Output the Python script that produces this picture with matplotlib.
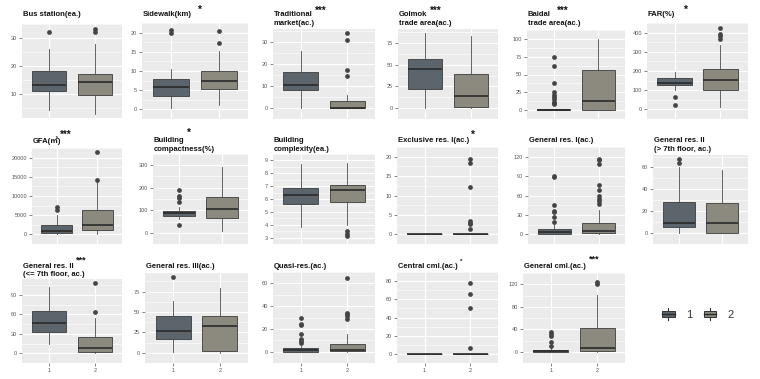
import matplotlib
matplotlib.use("Agg")
import matplotlib.pyplot as plt
from matplotlib.patches import Patch, Rectangle
from matplotlib.lines import Line2D
from matplotlib.legend_handler import HandlerBase
import numpy as np

plt.rcParams['font.family'] = ['Liberation Sans', 'DejaVu Sans', 'Noto Sans CJK KR']

# ---------------- data ----------------
titles = ["Bus station(ea.)", "Sidewalk(km)", "Traditional\nmarket(ac.)",
          "Golmok\ntrade area(ac.)", "Baidal\ntrade area(ac.)", "FAR(%)",
          "GFA(\u33a1)", "Building\ncompactness(%)", "Building\ncomplexity(ea.)",
          "Exclusive res. I(ac.)", "General res. I(ac.)", "General res. II\n(> 7th floor, ac.)",
          "General res. II\n(<= 7th floor, ac.)", "General res. III(ac.)", "Quasi-res.(ac.)",
          "Central cml.(ac.)", "General cml.(ac.)"]
stars = ["", "*", "***", "***", "***", "*",
         "***", "*", "", "*", "", "",
         "***", "", "", "*", "***"]
groups = ["1", "2"]

g1_q1 = [11, 3.5, 8.1, 22.5, 0, 128, 480, 73, 5.6, 0, 1, 6, 33, 16.7, 0, 0, 0]
g1_med = [13, 5.8, 10.6, 45, 0.3, 139, 970, 88, 6.3, 0, 3, 9.2, 46.6, 27, 1, 0, 1]
g1_q3 = [18, 8, 16.3, 57, 1, 163, 2340, 96.5, 6.84, 0, 8, 28, 65.5, 44.7, 3.2, 0, 3]
g1_lo = [4, 0.3, 0, 0.7, 0, 100, 0, 62, 3.84, 0, 0, 0.5, 13.6, 1, 0, 0, 0]
g1_hi = [26, 10.4, 26.1, 87, 2, 197, 5000, 114, 8.7, 0, 16, 60.3, 102, 63, 5.3, 0, 6.6]
g1_out = [[32], [20.0, 20.6], [], [], [8, 10, 12, 15, 19, 21, 25, 38, 62, 75], [22, 62],
          [6370, 7260], [35, 135, 153, 162, 192], [], [], [19, 27, 34, 36, 45, 88.5, 90],
          [64.5, 68], [], [93], [7.9, 9.5, 10.8, 15.3, 23.2, 24.2, 29.5], [],
          [9.6, 17.8, 28.4, 31.5, 34.5]]

g2_q1 = [9.5, 5.4, 0, 1, 0, 103, 1130, 66, 5.74, 0, 1.3, 0, 2.4, 2.3, 0.3, 0, 0.5]
g2_med = [14.2, 7.5, 0, 14.3, 12.6, 154, 2420, 107, 6.67, 0, 5.3, 9.2, 8.3, 32.2, 1.3, 0, 6.6]
g2_q3 = [17, 10, 3, 39.3, 57, 209, 6290, 159, 7.07, 0, 17.3, 27.5, 25.2, 44.7, 7.1, 0, 42.6]
g2_lo = [2.8, 1.1, 0, 0.5, 0, 14, 100, 9, 4.0, 0, 0, 0, 0, 0, 0, 0, 0]
g2_hi = [28, 15.2, 6, 83, 100, 338, 14000, 290, 8.8, 0, 37, 57.5, 54.8, 79.5, 15.8, 0, 101]
g2_out = [[32.1, 33.2], [17.3, 20.3], [14.6, 17.3, 31, 34.3], [], [], [368, 383, 393, 423],
          [14300, 21450], [], [3.15, 3.3, 3.5], [1.3, 2.7, 3.0, 3.4, 12.3, 18.4, 19.3],
          [47.5, 52, 54, 59, 69, 76, 108, 115.5, 117], [], [63.6, 109], [],
          [28.5, 31, 33, 34.2, 64.7], [6.7, 50.5, 66, 77.5], [119.6, 124]]

y_ticks = [[10, 20, 30], [0, 5, 10, 15, 20], [0, 10, 20, 30], [0, 25, 50, 75],
           [0, 25, 50, 75, 100], [0, 100, 200, 300, 400], [0, 5000, 10000, 15000, 20000],
           [0, 100, 200, 300], [3, 4, 5, 6, 7, 8, 9], [0, 5, 10, 15, 20],
           [0, 30, 60, 90, 120], [0, 20, 40, 60], [0, 30, 60, 90], [0, 25, 50, 75],
           [0, 20, 40, 60], [0, 20, 40, 60, 80], [0, 40, 80, 120]]

# ---------------- layout (pixels: left, top, right, bottom) ----------------
W, H = 760, 379
rects = [(22, 24, 122, 118), (142, 23, 248, 119), (273, 29, 375, 119), (398, 29, 498, 119),
         (527, 30, 625, 119), (647, 23, 748, 119),
         (32, 148, 122, 244), (153, 154, 248, 244), (273, 154, 375, 244), (397, 147, 498, 244),
         (528, 147, 625, 244), (653, 155, 748, 244),
         (22, 279, 122, 363), (145, 273, 248, 363), (273, 272, 375, 363), (397, 272, 498, 363),
         (523, 273, 625, 363)]
title_y = [15, 141, 266]
star_pos = [None, (197, 10), (315, 11), (430, 11), (557, 11), (683, 10),
            (60, 135), (186, 133), None, (470, 135), None, None,
            (76, 260), None, None, (460, 261), (589, 259)]
star_size = [7, 7.5, 7, 7, 7, 7.5, 7, 7.5, 7, 7.5, 7, 7, 6.5, 7, 7, 4.5, 6.5]

c1, c2 = "#5d656c", "#8c8a7e"
edge = "#3c3c3c"

fig = plt.figure(figsize=(W / 100, H / 100), dpi=100)


def px2fig(x, y):
    return x / W, 1 - y / H


for i in range(17):
    l, t, r, b = rects[i]
    ax = fig.add_axes([l / W, 1 - b / H, (r - l) / W, (b - t) / H])
    ax.set_facecolor("#ebebeb")
    stats = [
        dict(q1=g1_q1[i], med=g1_med[i], q3=g1_q3[i], whislo=g1_lo[i], whishi=g1_hi[i], fliers=g1_out[i]),
        dict(q1=g2_q1[i], med=g2_med[i], q3=g2_q3[i], whislo=g2_lo[i], whishi=g2_hi[i], fliers=g2_out[i]),
    ]
    res = ax.bxp(stats, positions=[1, 2], widths=0.75, patch_artist=True, showcaps=False,
                 boxprops=dict(edgecolor=edge, linewidth=0.6),
                 medianprops=dict(color="#2a2a2a", linewidth=1.2),
                 whiskerprops=dict(color="#4a4a4a", linewidth=0.6),
                 flierprops=dict(marker="o", markersize=2.4, markerfacecolor="#444444",
                                 markeredgecolor="#444444", linestyle="none"),
                 zorder=3)
    for patch, c in zip(res["boxes"], [c1, c2]):
        patch.set_facecolor(c)
    # y-limits with ggplot-like 5% expansion
    vals = [g1_lo[i], g1_hi[i], g2_lo[i], g2_hi[i]] + g1_out[i] + g2_out[i]
    lo, hi = min(vals), max(vals)
    span = hi - lo if hi > lo else 1
    ax.set_ylim(lo - 0.05 * span, hi + 0.05 * span)
    ax.set_xlim(0.4, 2.6)
    yt = y_ticks[i]
    ax.set_yticks(yt)
    ax.set_yticklabels([str(v) for v in yt])
    step = yt[1] - yt[0]
    ax.set_yticks([v + step / 2 for v in [yt[0] - step] + yt], minor=True)
    ax.set_xticks([1, 2])
    ax.set_xticklabels(groups if i >= 12 else ["", ""])
    ax.grid(True, which="major", color="white", linewidth=0.8, zorder=0)
    ax.grid(True, which="minor", axis="y", color="white", linewidth=0.4, zorder=0)
    ax.set_axisbelow(True)
    for s in ax.spines.values():
        s.set_visible(False)
    ax.tick_params(axis="both", which="major", length=2, width=0.5, color="#555555",
                   labelsize=4, labelcolor="#555555", pad=1.5)
    ax.tick_params(axis="x", length=2 if i >= 12 else 0)
    ax.tick_params(which="minor", length=0)
    # titles
    row = i // 6
    lines = titles[i].split("\n")
    for k, line in enumerate(lines):
        fx, fy = px2fig(l + 1, title_y[row] + 8.5 * k)
        fig.text(fx, fy, line, fontsize=5.5, fontweight="bold", ha="left", va="center",
                 color="#111111")
    if stars[i]:
        sx, sy = px2fig(*star_pos[i])
        fig.text(sx, sy, stars[i], fontsize=star_size[i], fontweight="bold", ha="left",
                 va="center", color="#111111")


# legend
class BoxHandler(HandlerBase):
    def create_artists(self, legend, orig_handle, xdescent, ydescent, width, height, fontsize, trans):
        x0, y0 = -xdescent, -ydescent
        fc = orig_handle.get_facecolor()
        arts = [
            Line2D([x0 + width / 2] * 2, [y0, y0 + height], color="#333333", lw=0.8, transform=trans),
            Rectangle((x0, y0 + 0.22 * height), width, 0.56 * height, facecolor=fc,
                      edgecolor="#333333", lw=0.7, transform=trans),
            Line2D([x0, x0 + width], [y0 + 0.5 * height] * 2, color="#2a2a2a", lw=1.0, transform=trans),
        ]
        return arts


handles = [Patch(facecolor=c1), Patch(facecolor=c2)]
lx, ly = px2fig(698, 314)
fig.legend(handles, groups, handler_map={Patch: BoxHandler()}, loc="center",
           bbox_to_anchor=(lx, ly), ncol=2, frameon=False, fontsize=8,
           handlelength=1.1, handleheight=1.3, handletextpad=1.0, columnspacing=1.1,
           labelcolor="#333333")

fig.savefig("out.png", dpi=100)
